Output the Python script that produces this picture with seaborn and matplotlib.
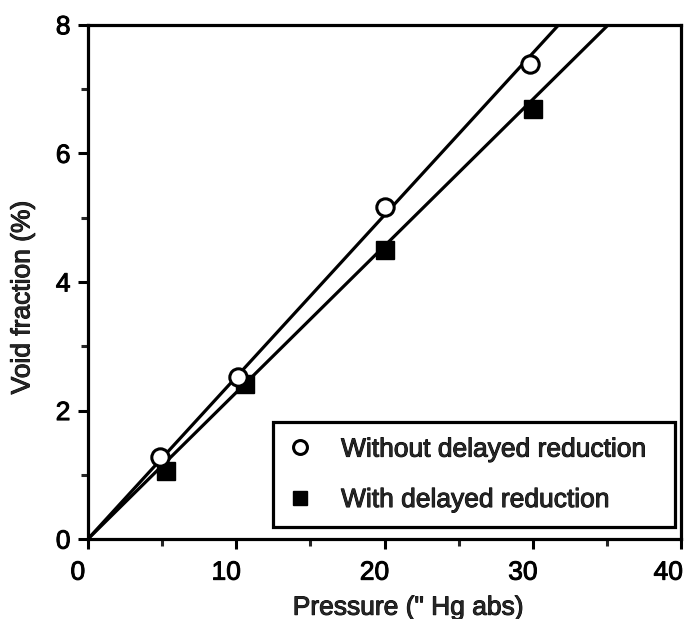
import numpy as np
import pandas as pd
import matplotlib
matplotlib.use("Agg")
import matplotlib.pyplot as plt
import matplotlib.transforms as mtransforms
import matplotlib.patheffects as pe
import seaborn as sns

# Values
pressure_without = [4.9, 10.1, 20.0, 29.8]
void_without = [1.27, 2.52, 5.16, 7.39]
pressure_with = [5.3, 10.6, 20.0, 30.0]
void_with = [1.06, 2.42, 4.49, 6.69]

# slopes of the straight fit lines (through the origin)
slope_without = 0.252
slope_with = 0.228
line_end_without = 31.7
line_end_with = 35.1

labels = ["Without delayed reduction", "With delayed reduction"]

sns.set_style("ticks")
plt.rcParams['font.family'] = ['Liberation Sans', 'DejaVu Sans']

df_points = pd.DataFrame({
    'pressure': pressure_without + pressure_with,
    'void': void_without + void_with,
    'series': [labels[0]] * len(pressure_without) + [labels[1]] * len(pressure_with),
})

fit_x1 = [0, line_end_without]
fit_x2 = [0, line_end_with]
df_lines = pd.DataFrame({
    'pressure': fit_x1 + fit_x2,
    'void': [x * slope_without for x in fit_x1] + [x * slope_with for x in fit_x2],
    'series': [labels[0]] * 2 + [labels[1]] * 2,
})

fig = plt.figure(figsize=(6.86, 6.19), dpi=100)
ax = fig.add_axes([0.128, 0.129, 0.865, 0.831])

# fit lines
sns.lineplot(data=df_lines, x='pressure', y='void', units='series', estimator=None,
             color='black', linewidth=2.3, ax=ax, legend=False, zorder=2)

# data points
sub = df_points[df_points['series'] == labels[0]]
ax.plot(sub['pressure'], sub['void'], linestyle='none', marker='o', markersize=12.5,
        markerfacecolor='white', markeredgecolor='black', markeredgewidth=2.2,
        zorder=4, label=labels[0])
sub = df_points[df_points['series'] == labels[1]]
ax.plot(sub['pressure'], sub['void'], linestyle='none', marker='s', markersize=13,
        markerfacecolor='black', markeredgecolor='black', zorder=3, label=labels[1])

ax.set_xlim(0, 40)
ax.set_ylim(0, 8)
ax.set_xticks([0, 10, 20, 30, 40])
ax.set_xticks([5, 15, 25, 35], minor=True)
ax.set_yticks([0, 2, 4, 6, 8])
ax.set_yticks([1, 3, 5, 7], minor=True)

for sp in ax.spines.values():
    sp.set_linewidth(2.3)
    sp.set_color('black')

ax.tick_params(axis='both', which='major', length=7.5, width=2.2, labelsize=19,
               colors='black')
ax.tick_params(axis='both', which='minor', length=5, width=2.2)
ax.tick_params(axis='x', which='major', pad=8)
ax.tick_params(axis='y', which='major', pad=5)

# x tick labels sit a little left of their ticks in the original
offset = mtransforms.ScaledTranslation(-0.10, 0, fig.dpi_scale_trans)
last_offset = mtransforms.ScaledTranslation(-0.13, 0, fig.dpi_scale_trans)
xlabels = ax.get_xticklabels()
for i, lbl in enumerate(xlabels):
    lbl.set_transform(lbl.get_transform() + (last_offset if i == len(xlabels) - 1 else offset))

ax.set_xlabel('Pressure (" Hg abs)', fontsize=19)
ax.xaxis.set_label_coords(0.54, -0.11)
ax.set_ylabel('Void fraction (%)', fontsize=19)
ax.yaxis.set_label_coords(-0.09, 0.47)

leg = ax.legend(loc='lower left', bbox_to_anchor=(0.312, 0.023, 0.678, 0.2),
                mode='expand', fontsize=19,
                frameon=True, fancybox=False, edgecolor='black', framealpha=1,
                handlelength=0.9, handletextpad=1.1, borderpad=0.58,
                labelspacing=1.0, markerscale=0.8, borderaxespad=0.0)
leg.get_frame().set_linewidth(2.3)

# the scanned original has slightly heavy text
stroke = [pe.withStroke(linewidth=0.7, foreground='black')]
texts = ax.get_xticklabels() + ax.get_yticklabels() + leg.get_texts() + \
    [ax.xaxis.label, ax.yaxis.label]
for t in texts:
    t.set_path_effects(stroke)

fig.savefig('out.png', dpi=100)
